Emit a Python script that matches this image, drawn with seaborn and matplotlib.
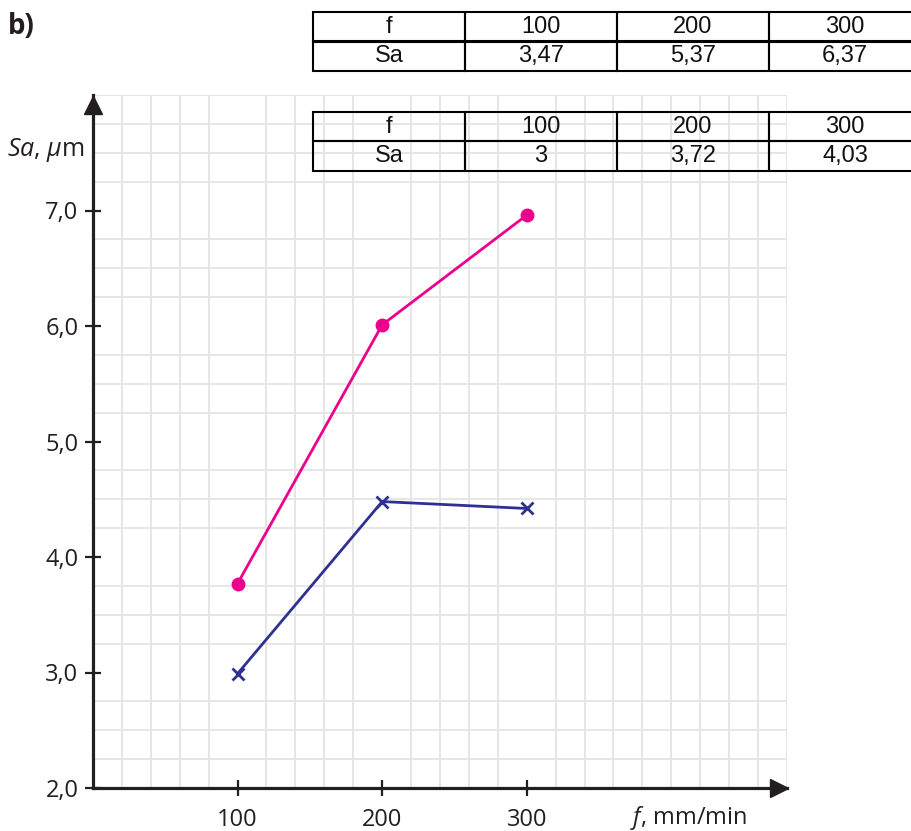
import matplotlib
matplotlib.use("Agg")
import matplotlib.pyplot as plt
from matplotlib.ticker import MultipleLocator, FuncFormatter
import seaborn as sns
import pandas as pd

# feed rate, mm/min
feed = [100, 200, 300]
sa_pink = [3.77, 6.01, 6.96]
sa_blue = [2.99, 4.48, 4.42]
# values printed in the two tables
table_top = [3.47, 5.37, 6.37]
table_bottom = [3, 3.72, 4.03]

PINK = "#ec008c"
BLUE = "#2e3192"
INK = "#231f20"
GRID = "#e6e6e6"

sns.set_style("white")
plt.rcParams["font.family"] = ["Open Sans", "DejaVu Sans"]
plt.rcParams["mathtext.fontset"] = "custom"
plt.rcParams["mathtext.rm"] = "Open Sans"
plt.rcParams["mathtext.it"] = "Open Sans:italic"


def comma(v):
    return f"{v:g}".replace(".", ",")


df = pd.DataFrame({
    "f": feed * 2,
    "Sa": sa_pink + sa_blue,
    "series": ["pink"] * 3 + ["blue"] * 3,
})

fig = plt.figure(figsize=(9.12, 8.31), dpi=100)
ax = fig.add_axes([93 / 912, 1 - 788 / 831, 694 / 912, 693 / 831])

sns.lineplot(data=df[df.series == "pink"], x="f", y="Sa", color=PINK,
             marker="o", markersize=10, markeredgewidth=0, linewidth=2,
             ax=ax, zorder=4)
sns.lineplot(data=df[df.series == "blue"], x="f", y="Sa", color=BLUE,
             marker="x", markersize=8, markeredgewidth=2, markeredgecolor=BLUE,
             linewidth=2, ax=ax, zorder=4)

ax.set_xlim(0, 480)
ax.set_ylim(2, 8)

# graph-paper grid
ax.xaxis.set_minor_locator(MultipleLocator(20))
ax.yaxis.set_minor_locator(MultipleLocator(0.25))
ax.grid(False)
ax.grid(which="minor", color=GRID, linewidth=1.4)
ax.set_axisbelow(True)
ax.tick_params(which="minor", length=0)

ax.set_xticks(feed)
ax.set_yticks([2, 3, 4, 5, 6, 7])
ax.yaxis.set_major_formatter(FuncFormatter(lambda v, p: f"{v:.1f}".replace(".", ",")))
ax.tick_params(which="major", direction="inout", length=11, width=1.6,
               color=INK, labelsize=17, labelcolor=INK, bottom=True, left=True)
ax.tick_params(axis="y", pad=5)
ax.tick_params(axis="x", pad=9)

for s in ["top", "right"]:
    ax.spines[s].set_visible(False)
for s in ["left", "bottom"]:
    ax.spines[s].set_color(INK)
    ax.spines[s].set_linewidth(2.3)

# arrow heads on the axes
ax.plot(0, 0.985, marker="^", markersize=13, color=INK, transform=ax.transAxes,
        clip_on=False, zorder=6)
ax.plot(0.989, 0, marker=">", markersize=13, color=INK, transform=ax.transAxes,
        clip_on=False, zorder=6)

ax.set_xlabel("")
ax.set_ylabel("")
ax.text(-0.012, 0.921, r"$\mathit{Sa}$, $\mathit{μ}$m", ha="right", va="center",
        fontsize=18, color=INK, transform=ax.transAxes)
ax.text(0.774, -0.043, r"$\mathit{f}$, mm/min", ha="left", va="center",
        fontsize=17, color=INK, transform=ax.transAxes)

fig.text(8 / 912, 1 - 26 / 831, "b)", fontsize=20, fontweight="bold",
         color=INK, ha="left", va="center")


def draw_table(top_px, values):
    tax = fig.add_axes([313 / 912, 1 - (top_px + 59) / 831, 608 / 912, 59 / 831])
    tax.axis("off")
    rows = [["f"] + [str(v) for v in feed], ["Sa"] + [comma(v) for v in values]]
    tab = tax.table(cellText=rows, cellLoc="center", bbox=[0, 0, 1, 1])
    tab.auto_set_font_size(False)
    for cell in tab.get_celld().values():
        cell.set_facecolor("none")
        cell.set_edgecolor("black")
        cell.set_linewidth(1.5)
        cell.get_text().set_fontsize(17)
        cell.get_text().set_fontfamily("Liberation Sans")
        cell.get_text().set_color("#111111")


draw_table(12, table_top)
draw_table(112, table_bottom)

fig.savefig("out.png", dpi=100)
